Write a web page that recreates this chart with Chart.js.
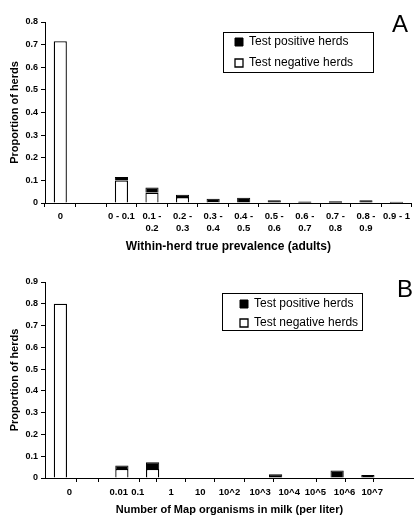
<!DOCTYPE html>
<html>
<head>
<meta charset="utf-8">
<script src="https://cdn.jsdelivr.net/npm/chart.js@4"></script>
<style>
body { margin: 0; background: #fff; }
canvas { display: block; }
</style>
</head>
<body>
<canvas id="chartA" width="414" height="260"></canvas>
<canvas id="chartB" width="414" height="261"></canvas>
<script>
// panel A: within-herd true prevalence
var prevalenceCats = ["0", "", "0 - 0.1", ["0.1 -", "0.2"], ["0.2 -", "0.3"], ["0.3 -", "0.4"],
    ["0.4 -", "0.5"], ["0.5 -", "0.6"], ["0.6 -", "0.7"], ["0.7 -", "0.8"], ["0.8 -", "0.9"], "0.9 - 1"];
var negativeA = [0.715, 0, 0.10, 0.046, 0.026, 0.004, 0.002, 0.002, 0.001, 0.001, 0.002, 0.001];
var positiveA = [0, 0, 0.015, 0.022, 0.011, 0.015, 0.021, 0.010, 0.006, 0.007, 0.010, 0.005];

// panel B: Map organisms in milk, bins between the tick values
var milkCats = ["0", "", "0.01-0.1", "0.1-1", "1-10", "10-10^2", "10^2-10^3", "10^3-10^4",
    "10^4-10^5", "10^5-10^6", "10^6-10^7", ">10^7"];
var negativeB = [0.80, 0, 0.041, 0.041, 0, 0, 0, 0, 0, 0, 0, 0];
var positiveB = [0, 0, 0.016, 0.031, 0, 0, 0, 0.017, 0, 0.035, 0.014, 0];
var milkTickLabels = ["0", "0.01", "0.1", "1", "10", "10^2", "10^3", "10^4", "10^5", "10^6", "10^7"];
var milkTickPos = [0.5, 2.2, 2.85, 4, 5, 6, 7.05, 8.05, 8.95, 9.95, 10.9];

var seriesNames = ["Test negative herds", "Test positive herds"];

Chart.defaults.font.family = "'Liberation Sans', Arial, sans-serif";
Chart.defaults.color = "#000";

var panelPlugin = {
    id: 'panel',
    afterLayout: function (chart, args, opts) {
        var lg = chart.legend;
        lg.left = opts.legendX;
        lg.top = opts.legendY;
        lg.right = lg.left + lg.width;
        lg.bottom = lg.top + lg.height;
    },
    afterDraw: function (chart, args, opts) {
        var ctx = chart.ctx;
        var b = opts.box;
        ctx.save();
        ctx.strokeStyle = '#000';
        ctx.lineWidth = 1;
        ctx.strokeRect(b[0] + 0.5, b[1] + 0.5, b[2], b[3]);
        ctx.fillStyle = '#000';
        ctx.font = "24px 'Liberation Sans', Arial, sans-serif";
        ctx.textBaseline = 'alphabetic';
        ctx.fillText(opts.letter, opts.letterX, opts.letterY);
        ctx.restore();
    }
};

function makeDatasets(neg, pos) {
    return [{
        label: seriesNames[0],
        data: neg,
        backgroundColor: '#fff',
        borderColor: '#000',
        borderWidth: 1.3,
        barPercentage: 0.43,
        categoryPercentage: 1
    }, {
        label: seriesNames[1],
        data: pos,
        backgroundColor: '#000',
        borderColor: '#000',
        borderWidth: 1,
        barPercentage: 0.43,
        categoryPercentage: 1
    }];
}

function legendOpts(pad) {
    return {
        position: 'chartArea',
        align: 'start',
        reverse: true,
        labels: { boxWidth: 8, boxHeight: 8, padding: pad, font: { size: 12 }, color: '#000' }
    };
}

function yAxis(max, title) {
    return {
        stacked: true,
        min: 0,
        max: max,
        ticks: { stepSize: 0.1, color: '#000', font: { size: 9, weight: 'bold' }, padding: 3 },
        grid: { drawOnChartArea: false, tickLength: 4, tickColor: '#000' },
        border: { color: '#000', width: 1 },
        title: { display: true, text: title, color: '#000', font: { size: 11, weight: 'bold' }, padding: { top: 8, bottom: 0 } },
        afterFit: function (s) { s.width = 45; }
    };
}

new Chart(document.getElementById("chartA"), {
    type: 'bar',
    data: { labels: prevalenceCats, datasets: makeDatasets(negativeA, positiveA) },
    plugins: [panelPlugin],
    options: {
        responsive: false,
        animation: false,
        layout: { padding: { top: 22, right: 0, bottom: 0, left: 0 } },
        scales: {
            x: {
                stacked: true,
                ticks: { color: '#000', font: { size: 9.5, weight: 'bold', lineHeight: 1.22 }, padding: 4, maxRotation: 0, autoSkip: false },
                grid: { drawOnChartArea: false, tickLength: 4, tickColor: '#000' },
                border: { color: '#000', width: 1 },
                title: { display: true, text: 'Within-herd true prevalence (adults)', color: '#000', font: { size: 12, weight: 'bold' }, padding: { top: 0, bottom: 6 } },
                afterFit: function (s) { s.height = 57; }
            },
            y: yAxis(0.8, 'Proportion of herds')
        },
        plugins: {
            legend: legendOpts(9),
            tooltip: { enabled: false },
            panel: { legendX: 226, legendY: 27, box: [223, 32, 150, 40], letter: 'A', letterX: 392, letterY: 32 }
        }
    }
});

new Chart(document.getElementById("chartB"), {
    type: 'bar',
    data: { labels: milkCats, datasets: makeDatasets(negativeB, positiveB) },
    plugins: [panelPlugin],
    options: {
        responsive: false,
        animation: false,
        layout: { padding: { top: 22, right: 0, bottom: 0, left: 0 } },
        scales: {
            x: { stacked: true, display: false },
            xb: {
                type: 'linear',
                position: 'bottom',
                min: 0,
                max: 12,
                afterBuildTicks: function (s) {
                    var vals = [];
                    for (var i = 1; i <= 11; i++) vals.push(i);
                    milkTickPos.forEach(function (p) { if (vals.indexOf(p) < 0) vals.push(p); });
                    vals.sort(function (a, b) { return a - b; });
                    s.ticks = vals.map(function (v) { return { value: v }; });
                },
                ticks: {
                    autoSkip: false, maxRotation: 0, color: '#000', padding: 5,
                    font: { size: 9.5, weight: 'bold', lineHeight: 1.22 },
                    callback: function (v) {
                        var k = milkTickPos.indexOf(v);
                        return k < 0 ? '' : milkTickLabels[k];
                    }
                },
                grid: {
                    drawOnChartArea: false, tickLength: 4,
                    tickColor: function (c) {
                        var v = c.tick ? c.tick.value : -1;
                        return (Number.isInteger(v) && v > 0 && v < 12) ? '#000' : 'rgba(0,0,0,0)';
                    }
                },
                border: { color: '#000', width: 1 },
                title: { display: true, text: 'Number of Map organisms in milk (per liter)', color: '#000', font: { size: 11, weight: 'bold' }, padding: { top: 0, bottom: 4 } },
                afterFit: function (s) { s.height = 43; }
            },
            y: yAxis(0.9, 'Proportion of herds')
        },
        plugins: {
            legend: legendOpts(7),
            tooltip: { enabled: false },
            panel: { legendX: 233, legendY: 31, box: [222, 33, 140, 37], letter: 'B', letterX: 397, letterY: 37 }
        }
    }
});
</script>
</body>
</html>
